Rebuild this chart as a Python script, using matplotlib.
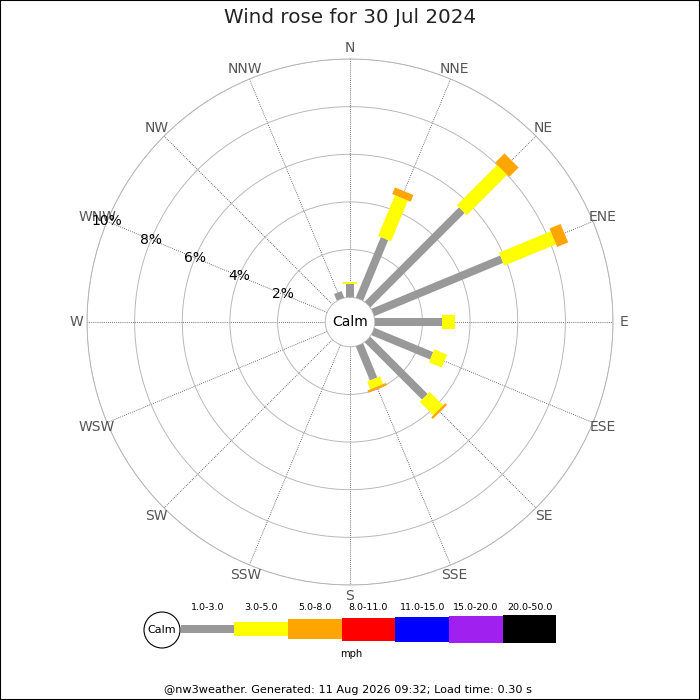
"""Wind rose for one day, nw3weather style."""

import matplotlib
matplotlib.use("Agg")
import matplotlib.pyplot as plt
import numpy as np
from matplotlib.patches import Circle, Rectangle

directions = ["N", "NNE", "NE", "ENE", "E", "ESE", "SE", "SSE",
              "S", "SSW", "SW", "WSW", "W", "WNW", "NW", "NNW"]

speed_bands = ["1.0-3.0", "3.0-5.0", "5.0-8.0", "8.0-11.0",
               "11.0-15.0", "15.0-20.0", "20.0-50.0"]
band_colors = ["#999999", "#ffff00", "#ffa500", "#ff0000",
               "#0000ff", "#a020f0", "#000000"]

# percent of time per direction, one list per speed band
pct_1_3 = [0.55, 2.75, 5.6, 5.85, 2.83, 2.67, 3.4, 1.55, 0, 0, 0, 0, 0, 0, 0, 0.3]
pct_3_5 = [0.1, 1.85, 2.4, 2.35, 0.55, 0.58, 0.8, 0.35, 0, 0, 0, 0, 0, 0, 0, 0]
pct_5_8 = [0, 0.3, 0.55, 0.5, 0, 0, 0.1, 0.1, 0, 0, 0, 0, 0, 0, 0, 0]
pct_8_11 = [0] * 16
pct_11_15 = [0] * 16
pct_15_20 = [0] * 16
pct_20_50 = [0] * 16
bands = [pct_1_3, pct_3_5, pct_5_8, pct_8_11, pct_11_15, pct_15_20, pct_20_50]

ring_values = [2, 4, 6, 8, 10]
ring_labels = ["2%", "4%", "6%", "8%", "10%"]

title = "Wind rose for 30 Jul 2024"
footer = "@nw3weather. Generated: 11 Aug 2026 09:32; Load time: 0.30 s"

# bar thickness (px) for each band
band_px = [8, 14, 20, 23, 25, 27, 28]
band_lw = [p * 72 / 100 for p in band_px]

fig = plt.figure(figsize=(7, 7), dpi=100)
fig.patches.append(Rectangle((0, 0), 1, 1, transform=fig.transFigure,
                             fill=False, edgecolor="black", lw=1.5, zorder=10))
fig.text(0.5, 0.975, title, ha="center", va="center", fontsize=14.3, color="#222222")

ax = fig.add_axes([87 / 700, 115 / 700, 526 / 700, 526 / 700], projection="polar")
ax.set_theta_zero_location("N")
ax.set_theta_direction(-1)
ax.set_rlim(0, 10)
ax.set_rorigin(-1.04)

theta = np.deg2rad(np.arange(16) * 22.5)

ax.set_yticks(ring_values)
ax.set_yticklabels([])
ax.yaxis.grid(True, color="#b4b4b4", lw=0.65, linestyle="-")
ax.set_xticks(theta)
ax.set_xticklabels([])
ax.xaxis.grid(False)
ax.tick_params(length=0)
for name, spine in ax.spines.items():
    spine.set_color("#b4b4b4")
    spine.set_linewidth(0.65)

# dotted spokes from calm circle to outer ring
for th in theta:
    ax.plot([th, th], [0, 10], color="#444444", lw=0.6, linestyle=(0, (1, 1.5)), zorder=1)

# direction labels
for th, name in zip(theta, directions):
    ax.text(th, 10.45, name, ha="center", va="center", fontsize=10,
            color="#555555", clip_on=False)

# ring labels along WNW
wnw = theta[directions.index("WNW")]
for r, lab in zip(ring_values, ring_labels):
    ax.text(wnw, r, lab, ha="center", va="center", fontsize=10, color="black", zorder=5)

# stacked bars
for i, th in enumerate(theta):
    base = 0.0
    for vals, color, lw in zip(bands, band_colors, band_lw):
        v = vals[i]
        if v <= 0:
            continue
        ax.plot([th, th], [base, base + v], color=color, lw=lw,
                solid_capstyle="butt", zorder=3)
        base += v

ax.text(0, -1.04, "Calm", ha="center", va="center", fontsize=10, color="black")

# legend strip
lax = fig.add_axes([0, 0, 1, 1])
lax.set_xlim(0, 700)
lax.set_ylim(700, 0)
lax.axis("off")
lax.add_patch(Circle((162, 630), 18, facecolor="white", edgecolor="black", lw=0.8))
lax.text(162, 630, "Calm", ha="center", va="center", fontsize=8)
seg_w = 53.7
x0 = 180.5
for k, (lab, color, h) in enumerate(zip(speed_bands, band_colors, band_px)):
    left = x0 + k * seg_w
    lax.add_patch(Rectangle((left, 629 - h / 2), seg_w, h, facecolor=color, edgecolor="none"))
    lax.text(left + seg_w / 2, 607, lab, ha="center", va="center", fontsize=6.8)
lax.text(351, 654, "mph", ha="center", va="center", fontsize=7.2)
lax.text(348, 690, footer, ha="center", va="center", fontsize=8.15)

fig.savefig("out.png", dpi=100)
